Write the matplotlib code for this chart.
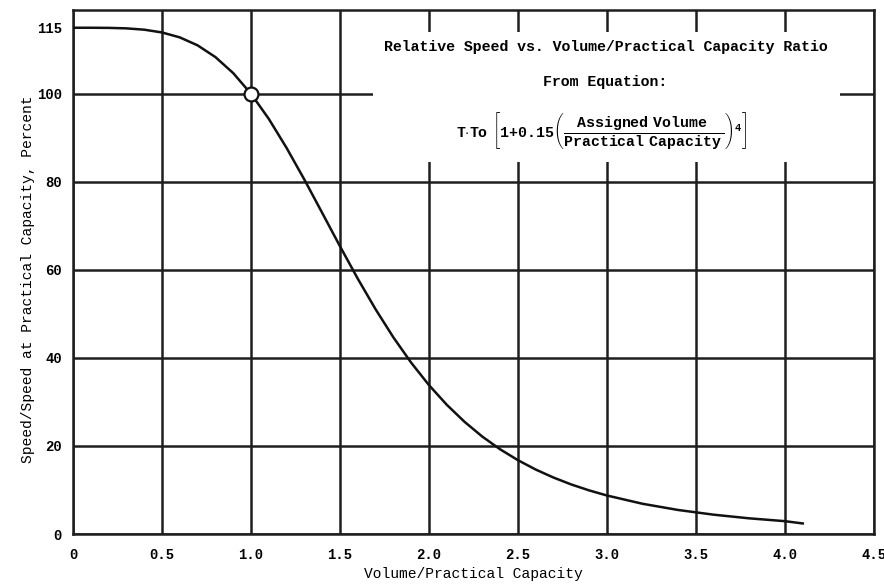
import matplotlib.pyplot as plt
from matplotlib.patches import Rectangle

# curve (volume / practical capacity vs speed percent)
ratio = [0.0, 0.1, 0.2, 0.3, 0.4, 0.5, 0.6, 0.7, 0.8, 0.9, 1.0,
         1.1, 1.2, 1.3, 1.4, 1.5, 1.6, 1.7, 1.8, 1.9, 2.0,
         2.1, 2.2, 2.3, 2.4, 2.5, 2.6, 2.7, 2.8, 2.9, 3.0,
         3.2, 3.4, 3.6, 3.8, 4.0, 4.1]
speed = [115.0, 115.0, 114.97, 114.86, 114.56, 113.93, 112.81, 111.0, 108.34, 104.7, 100.0,
         94.3, 87.7, 80.5, 72.95, 65.36, 57.99, 51.05, 44.67, 38.92, 33.82,
         29.36, 25.48, 22.12, 19.24, 16.77, 14.64, 12.82, 11.25, 9.91, 8.75,
         6.87, 5.46, 4.39, 3.56, 2.92, 2.4]

xticks = [0, 0.5, 1.0, 1.5, 2.0, 2.5, 3.0, 3.5, 4.0, 4.5]
xticklabels = ['0', '0.5', '1.0', '1.5', '2.0', '2.5', '3.0', '3.5', '4.0', '4.5']
yticks = [0, 20, 40, 60, 80, 100, 115]
ygrid = [0, 20, 40, 60, 80, 100]

plt.rcParams['font.family'] = ['Liberation Mono', 'DejaVu Sans Mono']
plt.rcParams['font.weight'] = 'bold'
plt.rcParams['mathtext.fontset'] = 'custom'
plt.rcParams['mathtext.rm'] = 'Liberation Mono:bold'
plt.rcParams['mathtext.it'] = 'Liberation Mono:bold'
plt.rcParams['mathtext.bf'] = 'Liberation Mono:bold'

fig = plt.figure(figsize=(8.84, 5.86), dpi=100)
ax = fig.add_axes([0.0826, 0.0887, 0.906, 0.894])

# grid lines
for x in xticks:
    ax.axvline(x, color='#1e1e1e', lw=1.8, zorder=1)
for y in ygrid:
    ax.axhline(y, color='#1e1e1e', lw=1.8, zorder=1)

# white box behind the caption
ax.add_patch(Rectangle((0.3745, 0.710), 0.583, 0.248, transform=ax.transAxes,
                       facecolor='white', edgecolor='none', zorder=2))

ax.plot(ratio, speed, color='#111111', lw=1.8, zorder=3)
ax.plot([1.0], [100], marker='o', ms=10, mfc='white', mec='#111111', mew=1.6, zorder=4)

ax.set_xlim(0, 4.5)
ax.set_ylim(0, 119)
ax.set_xticks(xticks)
ax.set_xticklabels(xticklabels)
ax.set_yticks(yticks)
ax.tick_params(length=0, labelsize=10, pad=10)
ax.tick_params(axis='y', pad=8)
for s in ax.spines.values():
    s.set_linewidth(1.8)
    s.set_color('#1e1e1e')

ax.set_xlabel('Volume/Practical Capacity', fontsize=10.5, labelpad=4)
ax.set_ylabel('Speed/Speed at Practical Capacity, Percent', fontsize=10.5)
ax.yaxis.set_label_coords(-0.047, 0.487)

ax.text(0.665, 0.929, 'Relative Speed vs. Volume/Practical Capacity Ratio',
        transform=ax.transAxes, ha='center', va='center', fontsize=10.7, zorder=5)
ax.text(0.664, 0.862, 'From Equation:', transform=ax.transAxes,
        ha='center', va='center', fontsize=10.7, zorder=5)
ax.text(0.660, 0.771,
        r'$\mathrm{T{\cdot}To}\ \ \left[1{+}0.15\left(\dfrac{\mathrm{Assigned}\;\;\mathrm{Volume}\;}'
        r'{\mathrm{Practical}\;\;\mathrm{Capacity}\;}\right)^{4}\right]$',
        transform=ax.transAxes, ha='center', va='center', fontsize=10.7, zorder=5)

fig.savefig('out.png', dpi=100)
